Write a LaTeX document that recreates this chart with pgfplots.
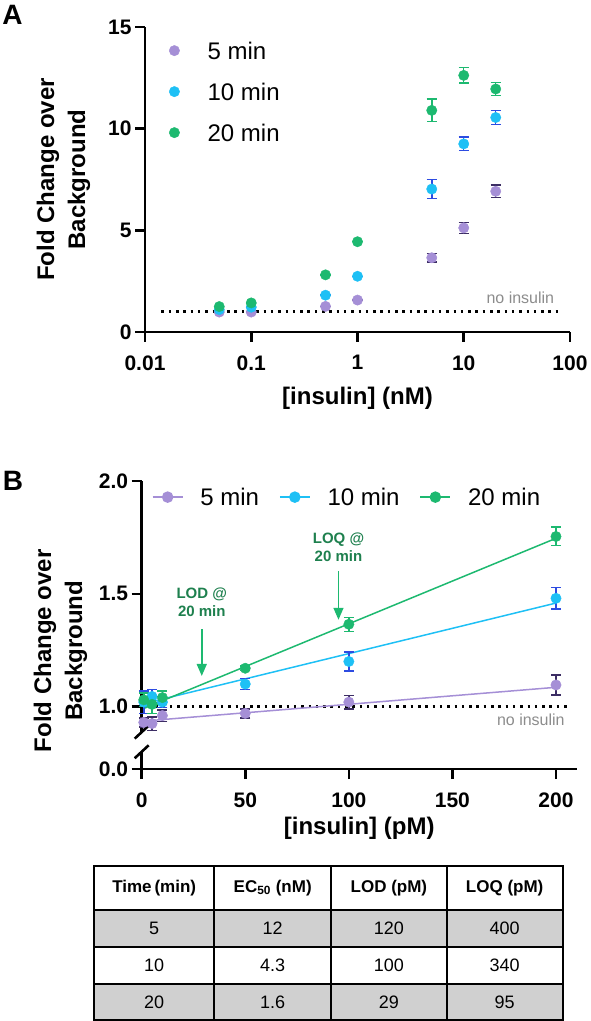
\documentclass[border=0pt]{standalone}
\usepackage{pgfplots}
\usepackage{pgfplotstable}
\pgfplotsset{compat=1.18}
\usepackage{fontspec}
\setmainfont{Liberation Sans}
\usetikzlibrary{arrows.meta}

\definecolor{cPurple}{RGB}{165,143,214}
\definecolor{cPurpleBar}{RGB}{60,45,100}
\definecolor{cBlue}{RGB}{30,192,245}
\definecolor{cBlueBar}{RGB}{45,75,225}
\definecolor{cGreen}{RGB}{29,185,112}
\definecolor{cGreenText}{RGB}{30,128,78}
\definecolor{cNoIns}{RGB}{140,140,140}
\definecolor{cRow}{RGB}{208,208,208}

\newcommand{\fs}[2]{\fontsize{#1}{#2}\selectfont}

% dose-response, panel A (insulin in nM)
\pgfplotstableread{
x     y     e
0.05  0.98  0
0.1   0.98  0
0.5   1.26  0
1     1.57  0
5     3.65  0.20
10    5.12  0.27
20    6.92  0.30
}\Afive
\pgfplotstableread{
x     y     e
0.05  1.10  0
0.1   1.22  0
0.5   1.81  0
1     2.74  0
5     7.03  0.46
10    9.25  0.33
20    10.55 0.35
}\Aten
\pgfplotstableread{
x     y     e
0.05  1.25  0
0.1   1.43  0
0.5   2.81  0
1     4.44  0
5     10.90 0.55
10    12.62 0.38
20    11.95 0.32
}\Atwenty

% low-dose range, panel B (insulin in pM)
\pgfplotstableread{
x    y      e
1    0.930  0.020
5    0.925  0.030
10   0.960  0.025
50   0.970  0.020
100  1.020  0.030
200  1.096  0.045
}\Bfive
\pgfplotstableread{
x    y      e
1    1.020  0.050
5    1.045  0.030
10   1.020  0.025
50   1.100  0.025
100  1.200  0.042
200  1.480  0.048
}\Bten
\pgfplotstableread{
x    y      e
1    1.030  0.030
5    1.010  0.040
10   1.040  0.030
50   1.170  0.010
100  1.365  0.031
200  1.754  0.041
}\Btwenty

\pgfplotsset{
  prism/.style={
    scale only axis,
    axis x line*=bottom, axis y line*=left,
    axis line style={line width=2.6pt},
    every tick/.style={line width=2.6pt, black},
    major tick length=10pt,
    tick align=outside,
    xminorticks=false, yminorticks=false,
    ticklabel style={font=\bfseries\fs{21}{21}},
    xticklabel style={yshift=-10pt},
    label style={font=\bfseries\fs{24}{31}, align=center},
    clip=false,
  },
  ebars/.style 2 args={forget plot, mark=none, draw=none,
    error bars/.cd, y dir=both, y explicit,
    error bar style={draw=#1, line width=1.5pt},
    error mark options={rotate=90, draw=#1, mark size=#2, line width=1.5pt}},
  dots/.style={only marks, mark=*, mark size=5.2pt, mark options={draw=#1, fill=#1}},
}

\begin{document}
\begin{tikzpicture}[x=1pt,y=1pt]
\path[use as bounding box] (0,0) rectangle (590,1021);

\node[font=\bfseries\fs{28}{28}] at (12.5,1006) {A};
\node[font=\bfseries\fs{28}{28}] at (13,540) {B};

%---------------- panel A ----------------
\begin{axis}[prism,
  at={(145pt,689pt)}, anchor=south west,
  width=425pt, height=305pt,
  xmode=log, log basis x=10,
  xmin=0.01, xmax=100, ymin=0, ymax=15,
  xtick={0.01,0.1,1,10,100}, xticklabels={0.01,0.1,1,10,100},
  ytick={0,5,10,15}, yticklabels={0,5,10,15},
  xlabel={[insulin] (nM)},
  ylabel={Fold Change over\\Background},
  xlabel style={at={(axis description cs:0.5,-0.2164)}, anchor=center},
  ylabel style={at={(axis description cs:-0.1918,0.5)}, anchor=center},
  legend image code/.code={\draw[#1] plot coordinates {(0pt,0pt)};},
  legend style={draw=none, fill=none, inner sep=0pt,
    at={(axis description cs:0.0565,0.951)}, anchor=north west,
    font=\fs{24}{24}, row sep=24pt,
    nodes={inner sep=0pt, text height=17pt, text depth=0pt, anchor=west},
    /tikz/every odd column/.append style={column sep=28pt}},
]
\addplot[forget plot, black, line width=2.5pt, dash pattern=on 2.5pt off 4.8pt]
  coordinates {(0.0143,1) (76.6,1)};
\node[anchor=east, text=cNoIns, font=\fs{16}{16}] at (axis cs:76.6,1.68) {no insulin};

\addplot[ebars={cPurpleBar}{5.2pt}] table[x=x,y=y,y error=e] {\Afive};
\addplot[ebars={cBlueBar}{5.2pt}]   table[x=x,y=y,y error=e] {\Aten};
\addplot[ebars={cGreen}{5.2pt}]     table[x=x,y=y,y error=e] {\Atwenty};
\addplot[forget plot, dots=cPurple] table[x=x,y=y] {\Afive};
\addplot[forget plot, dots=cBlue]   table[x=x,y=y] {\Aten};
\addplot[forget plot, dots=cGreen]  table[x=x,y=y] {\Atwenty};

\addlegendimage{only marks, mark=*, mark size=5.2pt, cPurple}
\addlegendentry{5 min}
\addlegendimage{only marks, mark=*, mark size=5.2pt, cBlue}
\addlegendentry{10 min}
\addlegendimage{only marks, mark=*, mark size=5.2pt, cGreen}
\addlegendentry{20 min}
\end{axis}

%---------------- panel B ----------------
\begin{axis}[prism,
  at={(141.7pt,252pt)}, anchor=south west,
  width=435pt, height=288pt,
  xmin=0, xmax=210, ymin=0.7235, ymax=2,
  xtick={0,50,100,150,200}, xticklabels={0,50,100,150,200},
  ytick={0.7235,1,1.5,2}, yticklabels={0.0,1.0,1.5,2.0},
  xlabel={[insulin] (pM)},
  ylabel={Fold Change over\\Background},
  xlabel style={at={(axis description cs:0.5,-0.2049)}, anchor=center},
  ylabel style={at={(axis description cs:-0.1867,0.41)}, anchor=center},
  legend image code/.code={\draw[#1, mark repeat=2, mark phase=2]
    plot coordinates {(0pt,0pt) (15pt,0pt) (30pt,0pt)};},
  legend columns=3,
  legend style={draw=none, fill=none, inner sep=0pt,
    at={(axis description cs:0.023,0.944)}, anchor=west,
    font=\fs{24}{24},
    nodes={inner sep=0pt, text height=17pt, text depth=0pt, anchor=west},
    /tikz/every odd column/.append style={column sep=17pt},
    /tikz/every even column/.append style={column sep=20pt}},
]
\addplot[forget plot, black, line width=2.5pt, dash pattern=on 2.5pt off 4.8pt]
  coordinates {(3,1) (206,1)};
\node[anchor=east, text=cNoIns, font=\fs{16}{16}] at (axis cs:205.9,0.941) {no insulin};

% linear fits
\addplot[forget plot, cPurple, line width=1.5pt] coordinates {(1,0.9358) (200,1.0856)};
\addplot[forget plot, cBlue,   line width=1.5pt] coordinates {(1,1.0132) (200,1.459)};
\addplot[forget plot, cGreen,  line width=1.5pt] coordinates {(1,0.9918) (200,1.746)};

\addplot[ebars={cPurpleBar}{5pt}] table[x=x,y=y,y error=e] {\Bfive};
\addplot[ebars={cBlueBar}{5pt}]   table[x=x,y=y,y error=e] {\Bten};
\addplot[ebars={cGreen}{5pt}]     table[x=x,y=y,y error=e] {\Btwenty};
\addplot[forget plot, dots=cPurple] table[x=x,y=y] {\Bfive};
\addplot[forget plot, dots=cBlue]   table[x=x,y=y] {\Bten};
\addplot[forget plot, dots=cGreen]  table[x=x,y=y] {\Btwenty};

\addlegendimage{cPurple, line width=1.5pt, mark=*, mark size=5pt}
\addlegendentry{5 min}
\addlegendimage{cBlue, line width=1.5pt, mark=*, mark size=5pt}
\addlegendentry{10 min}
\addlegendimage{cGreen, line width=1.5pt, mark=*, mark size=5pt}
\addlegendentry{20 min}

% detection and quantification limits at 20 min
\draw[cGreen, line width=1.5pt, -{Triangle[width=10pt,length=12pt]}]
  (axis cs:29,1.3435) -- (axis cs:29,1.136);
\node[text=cGreenText, font=\bfseries\fs{15}{18}, align=center] at (axis cs:29,1.461) {LOD @\\20 min};
\draw[cGreen, line width=1.5pt, -{Triangle[width=10pt,length=12pt]}]
  (axis cs:95,1.599) -- (axis cs:95,1.385);
\node[text=cGreenText, font=\bfseries\fs{15}{18}, align=center] at (axis cs:95,1.705) {LOQ @\\20 min};

% broken y axis
\draw[white, line width=4pt] (axis cs:0,0.80) -- (axis cs:0,0.887);
\draw[black, line width=2.6pt] ([shift={(-7pt,-6.5pt)}]axis cs:0,0.887) -- ++(14pt,13pt);
\draw[black, line width=2.6pt] ([shift={(-7pt,-6.5pt)}]axis cs:0,0.80) -- ++(14pt,13pt);
\end{axis}

%---------------- summary table ----------------
\fill[cRow] (94,74.3) rectangle (562.7,111);
\fill[cRow] (94,1) rectangle (562.7,37);
\draw[line width=2pt] (94,1) rectangle (562.7,155);
\foreach \yy in {111,74.3,37} \draw[line width=2pt] (94,\yy) -- (562.7,\yy);
\foreach \xx in {214.3,331,446.7} \draw[line width=2pt] (\xx,1) -- (\xx,155);
\begin{scope}[every node/.style={font=\bfseries\fs{17}{17}}]
\node at (154.2,133) {Time\,(min)};
\node at (272.7,133) {EC\textsubscript{50} (nM)};
\node at (388.9,133) {LOD (pM)};
\node at (504.7,133) {LOQ (pM)};
\end{scope}
\begin{scope}[every node/.style={font=\fs{18}{18}}]
\node at (154.2,92.7) {5};   \node at (272.7,92.7) {12};  \node at (388.9,92.7) {120}; \node at (504.7,92.7) {400};
\node at (154.2,55.7) {10};  \node at (272.7,55.7) {4.3}; \node at (388.9,55.7) {100}; \node at (504.7,55.7) {340};
\node at (154.2,19)   {20};  \node at (272.7,19)   {1.6}; \node at (388.9,19)   {29};  \node at (504.7,19)   {95};
\end{scope}
\end{tikzpicture}
\end{document}
